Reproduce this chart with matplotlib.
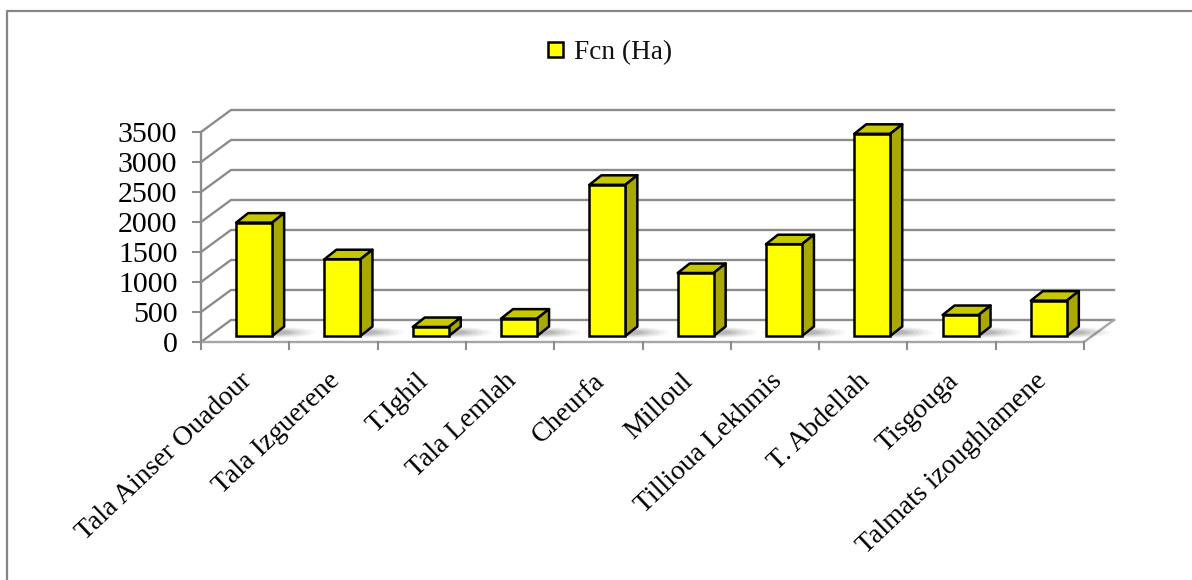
import numpy as np
from matplotlib import pyplot as plt
from matplotlib.patches import Polygon, Rectangle, Ellipse

communes = ["Tala Ainser Ouadour", "Tala Izguerene", "T.Ighil", "Tala Lemlah", "Cheurfa",
            "Milloul", "Tillioua Lekhmis", "T. Abdellah", "Tisgouga", "Talmats izoughlamene"]
fcn_ha = [1890, 1280, 150, 290, 2520, 1050, 1530, 3370, 350, 590]
y_ticks = [0, 500, 1000, 1500, 2000, 2500, 3000, 3500]

# depth of the 3d box, in axis units
wall_dx = 30 / 88.3
wall_dy = 367
bar_dx = 12 / 88.3
bar_dy = 158
bar_base = 100
bar_width = 36 / 88.3
bar_shift = 9 / 88.3

GRID = "#8c8c8c"
BLACK = "#000000"

plt.rcParams["font.family"] = ["Liberation Serif", "DejaVu Serif"]

fig = plt.figure(figsize=(11.92, 5.80), dpi=100)
W, H = 1192, 580
ax = fig.add_axes([201 / W, 1 - 342 / H, 883 / W, 210 / H])
ax.set_xlim(0, len(communes))
ax.set_ylim(0, 3500)
ax.axis("off")

# outer chart border, runs off the right and bottom
fig.add_artist(plt.Line2D([7.5 / W, 7.5 / W, 1], [0, 1 - 10.5 / H, 1 - 10.5 / H],
                          color="#868686", lw=1.6, transform=fig.transFigure))

n = len(communes)
for v in y_ticks:
    ax.plot([0, wall_dx, n + wall_dx], [v, v + wall_dy, v + wall_dy], color=GRID, lw=1.7,
            clip_on=False, zorder=1)
    ax.plot([-0.085, 0], [v, v], color=GRID, lw=1.5, clip_on=False, zorder=1)
    ax.annotate(str(v), xy=(0, v), xytext=(-17, -2.5), textcoords="offset points",
                ha="right", va="center", fontsize=21.5, color=BLACK, annotation_clip=False)

# floor and front edges
ax.plot([0, 0], [0, 3500], color=GRID, lw=1.7, clip_on=False, zorder=1)
ax.plot([0, n, n + wall_dx], [0, 0, wall_dy], color="#a6a6a6", lw=1.7, clip_on=False, zorder=1)
for i in range(n + 1):
    ax.plot([i, i], [0, -115], color=GRID, lw=1.5, clip_on=False, zorder=1)

for i, (name, value) in enumerate(zip(communes, fcn_ha)):
    left = i + 0.5 + bar_shift - bar_width / 2
    right = left + bar_width
    top = bar_base + value

    # soft shadow on the floor
    for scale, alpha in [(1.0, 0.04), (0.88, 0.05), (0.76, 0.07), (0.64, 0.08), (0.52, 0.1), (0.4, 0.12)]:
        ax.add_patch(Ellipse((right + 0.02, bar_base + 60), 0.95 * scale, 190 * scale,
                             fc="#4a4a4a", ec="none", alpha=alpha, zorder=2, clip_on=False))

    ax.add_patch(Polygon([(left, top), (left + bar_dx, top + bar_dy),
                          (right + bar_dx, top + bar_dy), (right, top)],
                         fc="#c8c800", ec=BLACK, lw=1.8, joinstyle="round", zorder=3, clip_on=False))
    ax.add_patch(Polygon([(right, bar_base), (right + bar_dx, bar_base + bar_dy),
                          (right + bar_dx, top + bar_dy), (right, top)],
                         fc="#a8a800", ec=BLACK, lw=1.8, joinstyle="round", zorder=3, clip_on=False))
    ax.add_patch(Rectangle((left, bar_base), bar_width, value,
                           fc="#ffff00", ec=BLACK, lw=1.8, zorder=4, clip_on=False))

    ax.annotate(name, xy=(i + 0.5, 0), xytext=(-4, -19), textcoords="offset points",
                rotation=43.5, ha="right", va="top", rotation_mode="anchor",
                fontsize=20, color=BLACK, annotation_clip=False)

# legend
fig.add_artist(Rectangle((548 / W, 1 - 57 / H), 15 / W, 15 / H, fc="#ffff00", ec=BLACK, lw=1.8,
                         transform=fig.transFigure))
fig.text(574 / W, 1 - 53 / H, "Fcn (Ha)", ha="left", va="center", fontsize=19.6, color="#111111")

plt.savefig("out.png", dpi=100)
plt.close()
